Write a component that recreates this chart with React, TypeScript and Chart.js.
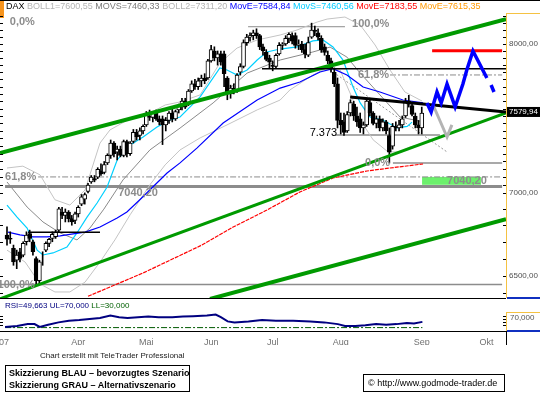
import React, { useEffect, useRef } from "react";
import { Chart, registerables } from "chart.js";

Chart.register(...registerables);

// ---------------- DATA ----------------
// Daily candles (trading-day index 0 = 1 Mar 2007)
const opens = [6740,6720,6660,6590,6640,6620,6700,6750,6700,6600,6470,6600,6650,6690,6720,6730,6770,6880,6860,6880,6840,6830,
  6870,6930,6960,7010,7070,7090,7100,7140,7130,7190,7240,7320,7260,7280,7240,7330,7250,7330,7390,
  7370,7400,7440,7500,7490,7520,7480,7480,7440,7470,7520,7480,7540,7570,7600,7580,7670,7720,7700,7740,7760,7760,
  7880,7950,7900,7930,7930,7760,7650,7690,7670,7800,7840,8010,8050,8060,8080,8060,7980,7940,7900,7850,7840,
  7930,7990,8000,8040,8060,8060,7990,8000,7960,7920,8050,8100,8080,8040,7980,7920,7880,7800,7720,7470,7460,7400,
  7520,7580,7500,7480,7420,7440,7590,7520,7450,7480,7420,7460,7370,7300,7430,7420,7440,7500,7600,7570,7500,7440,7420];
const highs = [6790,6760,6680,6650,6660,6700,6760,6770,6710,6610,6590,6640,6700,6720,6760,6770,6910,6910,6900,6890,6860,6880,
  6920,6990,7000,7060,7110,7110,7160,7185,7200,7250,7340,7330,7300,7300,7340,7340,7330,7410,7410,
  7420,7440,7530,7540,7530,7540,7500,7500,7490,7530,7550,7540,7580,7620,7620,7680,7740,7750,7760,7780,7790,7890,
  7990,7980,7950,7950,7950,7770,7710,7720,7790,7860,8030,8070,8080,8100,8110,8070,8000,7960,7920,7880,7930,
  8010,8010,8060,8080,8080,8080,8030,8020,8000,8050,8151,8130,8110,8060,8000,7950,7900,7830,7760,7520,7520,7530,
  7610,7600,7560,7520,7460,7620,7620,7530,7500,7500,7480,7470,7420,7450,7460,7470,7500,7620,7640,7580,7520,7470,7560];
const lows = [6680,6690,6560,6540,6580,6610,6680,6700,6620,6437,6450,6560,6640,6670,6700,6720,6760,6840,6820,6820,6800,6810,
  6850,6920,6930,7000,7060,7070,7090,7110,7120,7180,7220,7230,7210,7230,7230,7230,7240,7320,7340,
  7340,7380,7430,7470,7460,7470,7440,7310,7400,7450,7460,7470,7520,7540,7550,7570,7660,7680,7680,7700,7720,7750,
  7870,7880,7850,7850,7700,7610,7620,7650,7660,7780,7830,7990,8020,8030,8040,7960,7920,7880,7830,7810,7830,
  7920,7960,7990,8010,8000,7970,7960,7940,7900,7910,8040,8060,8030,7940,7920,7860,7800,7700,7420,7380,7370,7390,
  7500,7470,7430,7390,7380,7430,7500,7440,7420,7400,7400,7380,7190,7280,7400,7400,7420,7490,7560,7500,7420,7380,7380];
const closes = [6716,6715,6580,6620,6600,6690,6740,6720,6640,6470,6580,6600,6690,6715,6745,6760,6900,6860,6880,6840,6820,6870,
  6910,6975,6990,7050,7100,7080,7150,7120,7180,7240,7320,7250,7280,7240,7330,7250,7320,7390,7360,
  7400,7430,7510,7490,7520,7480,7460,7440,7470,7520,7480,7530,7570,7600,7560,7670,7720,7700,7740,7760,7740,7880,
  7960,7900,7930,7870,7790,7650,7690,7670,7780,7840,8010,8050,8060,8080,8060,7980,7950,7890,7870,7840,7920,
  7990,8000,8040,8070,8020,7990,8000,7960,7930,8010,8100,8090,8050,7960,7940,7880,7830,7720,7470,7440,7390,7510,
  7590,7500,7460,7420,7440,7600,7520,7450,7480,7420,7460,7400,7260,7430,7420,7440,7480,7600,7580,7510,7440,7420,7520];

// Indicator lines: [day index, value]
const bollUpper = [[0,7158],[4.9,7170],[10.2,7114],[14.8,6957],[19.4,6924],[24.1,7019],[28.7,7320],[31.8,7407],[38.9,7493],[44.1,7520],[48.8,7574],[53.4,7595],[59.6,7643],[65.7,7865],[71,7971],[77.2,8029],[84.3,8065],[89.5,8101],[95.7,8159],[98.8,8181],[104.3,8196],[109,8138],[113.6,7993],[118.2,7816],[122.8,7663],[128.1,7601]];
const bollMid = [[0,7069],[6.2,6912],[11.1,6820],[16.4,6753],[21.6,6711],[25.6,6783],[29.9,6899],[35.8,7082],[44.1,7275],[53.4,7419],[63.6,7588],[74.1,7794],[84.3,7886],[94.4,7943],[99.7,7978],[104.9,7907],[109,7794],[115.1,7643],[121.3,7493],[128.1,7462]];
const bollLower = [[0,6650],[5.6,6579],[10.2,6451],[14.8,6405],[19.4,6405],[24.1,6462],[28.7,6579],[33.3,6711],[38,6864],[44.1,7051],[48.8,7178],[53.4,7275],[59.6,7354],[67.9,7440],[77.2,7541],[84.3,7608],[87.3,7677],[94.4,7781],[98.8,7830],[102.8,7816],[106.8,7608],[109,7473],[113,7341],[117.6,7262],[121.3,7262],[124.4,7295],[128.1,7311]];
const movSCyan = [[0,6924],[3.1,6850],[6.2,6783],[9.3,6650],[11.1,6621],[14.2,6633],[18.5,6668],[21.6,6753],[24.7,6850],[27.8,6937],[30.9,7037],[34,7210],[38,7308],[42,7360],[46.3,7426],[50.3,7473],[53.4,7493],[59.6,7629],[65.7,7830],[67.9,7816],[71,7781],[74.1,7816],[77.2,7886],[80.2,7943],[84.3,7964],[89.5,7979],[94.4,8022],[97.5,8029],[100.6,7979],[103.7,7886],[106.8,7697],[109,7588],[112,7493],[116,7473],[120.4,7420],[123.5,7430],[125,7459]];
const movEBlue = [[0.3,6758],[4,6741],[8,6729],[12.3,6729],[16.4,6735],[20.4,6747],[24.1,6758],[28.7,6789],[34,6844],[37,6881],[41,6957],[45,7037],[49.4,7126],[53.4,7191],[58.6,7287],[66.7,7453],[77.2,7608],[84.3,7690],[90.4,7732],[96.6,7802],[100.6,7825],[104.9,7781],[109.9,7697],[115.1,7663],[122.2,7608],[128.4,7588]];
const movERed = [[25,6380],[42,6515],[59.6,6675],[69.8,6789],[80.2,6893],[90.4,7006],[100.6,7094],[111.1,7139],[118.2,7158],[128.4,7184]];

// Trend lines [index, value]
const greenUpper = [[-2.16,7255],[154,8181]];
const greenMiddle = [[-2.16,6365],[154,7520]];
const greenLower = [[62.65,6365],[154,6837]];
const blackResistance = [[105.9,7629],[154,7527]];
const blackJulyLevel = [[78.7,7825],[154,7825]];
const blackAprilLevel = [[6.5,6758],[28.7,6758]];

// Horizontal levels [index, value]
const level7040 = [[-0.6,7040.2],[152.8,7040.2]];
const levelLeft100 = [[-2.16,6448],[152.8,6448]];
const levelLeft618 = [[9.6,7101],[152.8,7101]];
const levelRight618 = [[118.2,7781],[152.8,7781]];
const levelRight0 = [[119.1,7191],[152.8,7191]];
const level7373 = [[101.2,7373],[133.6,7373]];
const levelTop100 = [[74.4,8125],[104.3,8125]];
const redTarget = [[131.2,7952],[152.8,7952]];
const grayDiagonal = [[99.7,7816],[135.8,7262]];

// Scenario sketches
const blueScenario = [[129.6,7588],[130.9,7527],[132.7,7663],[134,7588],[135.8,7718],[138.3,7561],[140.7,7718],[141.9,7816],[143.8,7950],[148.1,7760]];
const blueScenarioTail = [[149.4,7711],[150.3,7663]];
const grayScenario = [[131.5,7574],[135.8,7360],[137.3,7440]];
const greenBoxIdx = [128.1,146.3];
const greenBoxVals = [7051,7101];

// RSI [index, value]
const rsiLine = [[-0.6,32.4],[3.1,35.9],[6.4,42],[8.5,42],[10.1,32.4],[12.7,39.7],[15.9,48],[19.1,53.8],[22.3,56.2],[25.5,59.7],[28.7,63.4],[31.9,71.7],[34.6,65.9],[37.2,63.4],[40.4,65.9],[43.6,67.9],[46.8,65.9],[51,65.9],[54.3,67.9],[57.4,69.3],[61.7,71.7],[64.4,75.2],[66,65.9],[68.1,51.4],[70.2,48],[74.5,51.4],[78.7,56.2],[83,53.8],[88.3,53.8],[93.6,51.4],[97.9,48],[102.1,42],[104.3,35.9],[107.5,35.9],[110.6,38.3],[113.9,42],[117,39.7],[120.2,42],[123.4,45.5],[125.6,44.5],[128.2,49.7]];
const rsiLower = [[-0.6,30],[128.2,30]];
const rsiTicks = [40,50,60,70];
const rsiUpperLabel = 70;

// Axis ticks
const monthTickIdx = [-1.2,22,43,63,82,103,128,148];
const monthTickLabels = ["'07","Apr","Mai","Jun","Jul","Aug","Sep","Okt"];
const priceTickValues = [6400,6500,6600,6700,6800,6900,7000,7050,7100,7150,7200,7250,7300,7350,7400,7450,7500,7550,7600,7650,7700,7750,7800,7850,7900,7950,8000,8050,8100,8150,8200,8250];
const priceLabelValues = [6500,7000,8000];
const lastPriceText = "7579,94";

// Level labels: text, index, value
const levelTexts = ["0,0%","61,8%","100,0%","7040,20","100,0%","61,8%","0,0%","7.373","7040,20"];
const levelIdx = [8.6,-0.6,8.6,34.3,106.5,108.3,110.5,101.9,135.8];
const levelVals = [8159,7101,6448,6998,8145,7781,7191,7387,7076];

// Scale ranges
const xRange = [-2.16,154];
const priceRange = [6184.6,8314.6];
const rsiRange = [18.28,1156.2];

// ---------------- RENDER ----------------
const FONT = "'Liberation Sans', Arial, sans-serif";
const fmt = (v: number) => v.toFixed(2).replace(".", ",");
const pts = (a: number[][]) => a.map(([x, y]) => ({ x, y }));

const levelAlign = ["right","left","right","left","left","left","left","right","left"];
const levelColor = ["#8c8c8c","#8c8c8c","#8c8c8c","#8c8c8c","#8c8c8c","#8c8c8c","#8c8c8c","#000","#8c8c8c"];

const RSI_PANEL = 33;

const decoPlugin = {
  id: "deco",
  beforeDatasetsDraw(chart: any) {
    const { ctx, scales } = chart;
    const x = scales.x, y = scales.y;
    ctx.save();
    ctx.fillStyle = "#6cf06c";
    const x1 = x.getPixelForValue(greenBoxIdx[0]);
    const x2 = x.getPixelForValue(greenBoxIdx[1]);
    const y1 = y.getPixelForValue(greenBoxVals[1]);
    const y2 = y.getPixelForValue(greenBoxVals[0]);
    ctx.fillRect(x1, y1, x2 - x1, y2 - y1);
    ctx.restore();
  },
  afterDatasetsDraw(chart: any) {
    const { ctx, scales } = chart;
    const x = scales.x, y = scales.y;
    ctx.save();
    ctx.textBaseline = "middle";
    levelTexts.forEach((t, i) => {
      ctx.font = (i === 7 ? "" : "bold ") + "11px " + FONT;
      ctx.fillStyle = levelColor[i];
      ctx.textAlign = levelAlign[i] as CanvasTextAlign;
      ctx.fillText(t, x.getPixelForValue(levelIdx[i]), y.getPixelForValue(levelVals[i]));
    });
    ctx.restore();
  },
  afterDraw(chart: any) {
    const { ctx, chartArea: a, scales } = chart;
    const y = scales.y, r = scales.yRsi;
    const W = chart.width;
    const pBottom = a.bottom - RSI_PANEL;
    ctx.save();
    // top border + orange marker
    ctx.fillStyle = "#000";
    ctx.fillRect(0, 0, W, 1);
    ctx.fillStyle = "#f7941d";
    ctx.fillRect(0, 1, 4, 17);
    // panel separators
    ctx.fillStyle = "#000";
    ctx.fillRect(0, pBottom, a.right, 1);
    ctx.fillRect(0, a.bottom, a.right, 1);
    ctx.fillRect(a.right, a.bottom, 1, 14);
    // right axis boxes
    ctx.fillStyle = "#f5c242";
    ctx.fillRect(a.right, a.top + 12, 1, pBottom - a.top - 12);
    ctx.fillRect(a.right, a.top + 12, W - a.right, 1);
    const rTop = a.bottom - 19;
    ctx.fillRect(a.right, rTop, 1, a.bottom - rTop);
    ctx.fillRect(a.right, rTop, W - a.right, 1);
    ctx.fillStyle = "#1030c0";
    ctx.fillRect(a.right + 1, pBottom - 1, W - a.right, 2);
    ctx.fillRect(a.right + 1, a.bottom - 1, W - a.right, 2);
    // tick marks
    ctx.fillStyle = "#000";
    priceTickValues.forEach((v) => {
      const py = Math.round(y.getPixelForValue(v));
      if (py > a.top + 12 && py < pBottom) {
        ctx.fillRect(a.right - 3, py, 3, 1);
        ctx.fillRect(0, py, 3, 1);
      }
    });
    rsiTicks.forEach((v) => {
      const py = Math.round(r.getPixelForValue(v));
      ctx.fillRect(a.right - 3, py, 3, 1);
      ctx.fillRect(0, py, 3, 1);
    });
    // RSI axis label
    ctx.font = "8px " + FONT;
    ctx.fillStyle = "#555";
    ctx.textBaseline = "middle";
    ctx.textAlign = "left";
    ctx.fillText(fmt(rsiUpperLabel).replace(/,(\d\d)$/, ",$10"), a.right + 4, r.getPixelForValue(rsiUpperLabel) + 2);
    // last price box
    const ly = y.getPixelForValue(blackResistance[1][1]);
    ctx.fillStyle = "#000";
    ctx.fillRect(a.right + 1, ly - 5, W - a.right, 10);
    ctx.fillStyle = "#fff";
    ctx.fillText(lastPriceText, a.right + 3, ly);
    ctx.restore();
  },
};

export default function App() {
  const ref = useRef<HTMLCanvasElement>(null);
  useEffect(() => {
    const canvas = ref.current!;
    const clipP = { left: 0, top: 0, right: 0, bottom: -RSI_PANEL };
    const line = (data: number[][], color: string, width: number, order: number, extra: any = {}) => ({
      type: "line",
      data: pts(data),
      borderColor: color,
      borderWidth: width,
      pointRadius: 0,
      fill: false,
      tension: 0,
      order,
      yAxisID: "y",
      clip: clipP,
      ...extra,
    });
    const dashDot = [6, 2, 2, 2];
    const chart = new Chart(canvas, {
      type: "bar",
      data: {
        datasets: [
          line(blueScenario, "#0000ff", 3.5, 0),
          line(blueScenarioTail, "#0000ff", 3.5, 0),
          line(redTarget, "#ff0000", 3, 1),
          line(grayScenario, "#b4b4b4", 3, 1),
          line(blackResistance, "#000", 3, 2),
          line(blackJulyLevel, "#000", 1.5, 2),
          line(blackAprilLevel, "#000", 1.5, 2),
          line(greenUpper, "#009a00", 4, 3),
          line(greenMiddle, "#009a00", 3, 3),
          line(greenLower, "#009a00", 4, 3),
          {
            type: "bar",
            data: closes.map((c, i) => ({ x: i, y: [opens[i], c] })),
            backgroundColor: closes.map((c, i) => (c >= opens[i] ? "#fff" : "#000")),
            borderColor: "#000",
            borderWidth: 1,
            borderSkipped: false,
            barThickness: 4,
            grouped: false,
            order: 4,
            yAxisID: "y",
            clip: clipP,
          },
          {
            type: "bar",
            data: closes.map((c, i) => ({ x: i, y: [lows[i], highs[i]] })),
            backgroundColor: "#000",
            borderWidth: 0,
            barThickness: 1,
            grouped: false,
            order: 5,
            yAxisID: "y",
            clip: clipP,
          },
          line(movERed, "#ff0000", 1.2, 6, { borderDash: [4, 1] }),
          line(movEBlue, "#0000ff", 1.2, 6),
          line(movSCyan, "#00d0ff", 1.2, 6),
          line(bollMid, "#8a8a8a", 1, 7),
          line(bollUpper, "#c4c4c4", 1, 7),
          line(bollLower, "#c4c4c4", 1, 7),
          line(grayDiagonal, "#999", 1, 7, { borderDash: [2, 2] }),
          line(level7040, "#8c8c8c", 3, 8),
          line(levelLeft100, "#8c8c8c", 1.5, 8),
          line(levelLeft618, "#8c8c8c", 1, 8, { borderDash: dashDot }),
          line(levelRight618, "#8c8c8c", 1, 8, { borderDash: dashDot }),
          line(levelRight0, "#8c8c8c", 1.5, 8),
          line(level7373, "#8c8c8c", 1.5, 8),
          line(levelTop100, "#8c8c8c", 1, 8),
          {
            type: "line",
            data: pts(rsiLine),
            borderColor: "#000080",
            borderWidth: 2,
            pointRadius: 0,
            tension: 0,
            yAxisID: "yRsi",
            order: 1,
          },
          {
            type: "line",
            data: pts(rsiLower),
            borderColor: "#005a00",
            borderWidth: 1,
            borderDash: dashDot,
            pointRadius: 0,
            yAxisID: "yRsi",
            order: 2,
          },
        ] as any,
      },
      options: {
        responsive: false,
        animation: false,
        devicePixelRatio: 1,
        events: [],
        layout: { padding: { top: 1, left: 0, right: 0, bottom: 49 } },
        plugins: { legend: { display: false }, tooltip: { enabled: false } },
        scales: {
          x: {
            type: "linear",
            min: xRange[0],
            max: xRange[1],
            offset: false,
            grid: { display: false, drawTicks: false },
            border: { display: false },
            afterBuildTicks: (s: any) => {
              s.ticks = monthTickIdx.map((v) => ({ value: v }));
            },
            afterFit: (s: any) => {
              s.height = 14;
              s.paddingLeft = 0;
              s.paddingRight = 0;
            },
            ticks: {
              autoSkip: false,
              maxRotation: 0,
              padding: 6,
              color: "#707070",
              font: { size: 9, family: FONT },
              callback: (v: any) => {
                const i = monthTickIdx.indexOf(Number(v));
                return i >= 0 ? monthTickLabels[i] : "";
              },
            },
          },
          y: {
            type: "logarithmic",
            position: "right",
            min: priceRange[0],
            max: priceRange[1],
            grid: { display: false, drawTicks: false },
            border: { display: false },
            afterBuildTicks: (s: any) => {
              s.ticks = priceTickValues.map((v) => ({ value: v }));
            },
            afterFit: (s: any) => {
              s.width = 34;
              s.paddingTop = 0;
              s.paddingBottom = 0;
            },
            ticks: {
              autoSkip: false,
              padding: 3,
              color: "#505050",
              font: { size: 8, family: FONT },
              callback: (v: any) => (priceLabelValues.includes(Number(v)) ? fmt(Number(v)) : ""),
            },
          },
          yRsi: {
            type: "linear",
            axis: "y",
            position: "left",
            display: false,
            min: rsiRange[0],
            max: rsiRange[1],
          },
        },
      } as any,
      plugins: [decoPlugin],
    });
    return () => chart.destroy();
  }, []);

  const txt = { fontFamily: FONT, position: "absolute" as const, whiteSpace: "nowrap" as const };
  return (
    <div style={{ position: "fixed", left: 0, top: 0, width: 540, height: 394, background: "#fff", overflow: "hidden" }}>
      <canvas ref={ref} width={540} height={394} style={{ position: "absolute", left: 0, top: 0, width: 540, height: 394 }} />
      <div style={{ ...txt, left: 6, top: 1, fontSize: 9, lineHeight: "11px" }}>
        <span style={{ color: "#000" }}>DAX </span>
        <span style={{ color: "#b4b4b4" }}>BOLL1=7600,55 </span>
        <span style={{ color: "#7a7a7a" }}>MOVS=7460,33 </span>
        <span style={{ color: "#b4b4b4" }}>BOLL2=7311,20 </span>
        <span style={{ color: "#0000ff" }}>MovE=7584,84 </span>
        <span style={{ color: "#00ccff" }}>MovS=7460,56 </span>
        <span style={{ color: "#ff0000" }}>MovE=7183,55 </span>
        <span style={{ color: "#ff9900" }}>MovE=7615,35</span>
      </div>
      <div style={{ ...txt, left: 5, top: 301, fontSize: 8, lineHeight: "10px" }}>
        <span style={{ color: "#000080" }}>RSI=49,663 UL=70,000 </span>
        <span style={{ color: "#006000" }}>LL=30,000</span>
      </div>
      <div style={{ ...txt, left: 40, top: 351, fontSize: 8, lineHeight: "10px", color: "#222" }}>
        Chart erstellt mit TeleTrader Professional
      </div>
      <div style={{ ...txt, left: 5, top: 365, width: 185, height: 27, border: "1px solid #000", boxSizing: "border-box", fontSize: 9, fontWeight: "bold", lineHeight: "12px", padding: "1px 3px", color: "#000" }}>
        <div>Skizzierung BLAU – bevorzugtes Szenario</div>
        <div>Skizzierung GRAU – Alternativszenario</div>
      </div>
      <div style={{ ...txt, left: 363, top: 374, width: 142, height: 18, border: "1px solid #000", boxSizing: "border-box", fontSize: 9, lineHeight: "16px", padding: "0 4px", color: "#000" }}>
        © http://www.godmode-trader.de
      </div>
    </div>
  );
}
